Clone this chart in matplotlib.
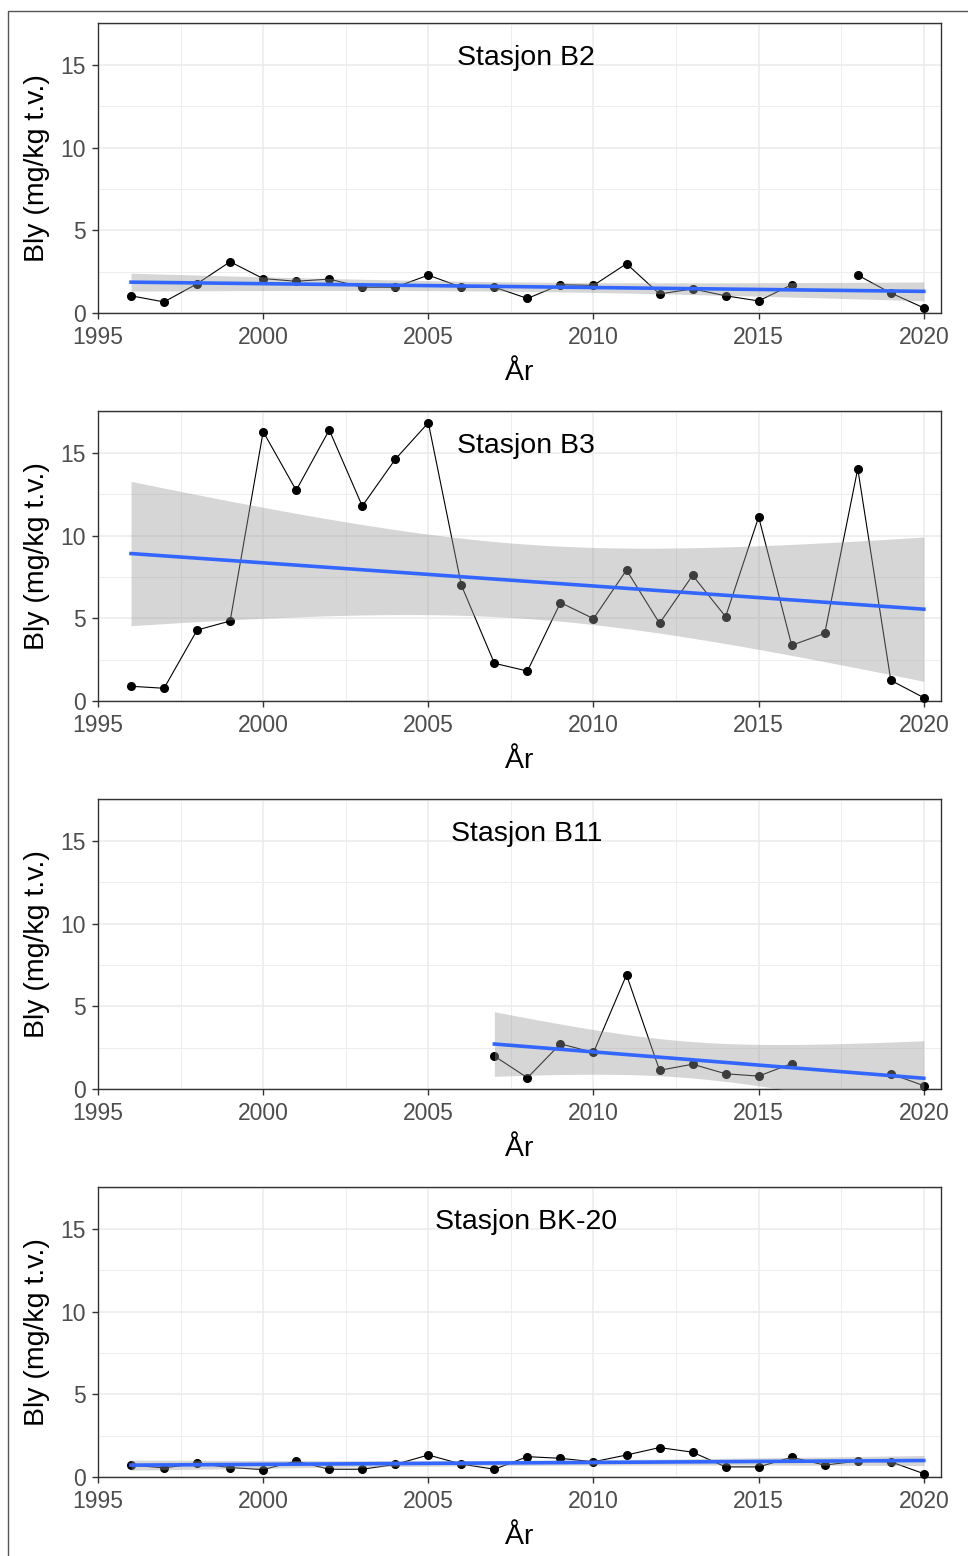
import numpy as np
import matplotlib
matplotlib.use("Agg")
import matplotlib.pyplot as plt
from matplotlib.lines import Line2D
from matplotlib.ticker import MultipleLocator

plt.rcParams['font.family'] = ['Liberation Sans', 'DejaVu Sans']

nan = np.nan
years = np.arange(1996, 2021)

stations = ["Stasjon B2", "Stasjon B3", "Stasjon B11", "Stasjon BK-20"]

b2 = [1.04, 0.67, 1.77, 3.10, 2.08, 1.92, 2.05, 1.56, 1.56, 2.29, 1.56, 1.56, 0.88,
      1.71, 1.67, 2.98, 1.15, 1.46, 1.04, 0.73, 1.71, nan, 2.29, 1.21, 0.31]
b3 = [0.89, 0.77, 4.29, 4.84, 16.29, 12.74, 16.39, 11.79, 14.62, 16.83, 7.00, 2.28, 1.81,
      5.95, 4.98, 7.92, 4.70, 7.60, 5.10, 11.13, 3.37, 4.09, 14.05, 1.25, 0.20]
b11 = [nan] * 11 + [1.99, 0.68, 2.73, 2.21, 6.90, 1.13, 1.50, 0.92, 0.78, 1.54,
                    nan, nan, 0.92, 0.20]
bk20 = [0.72, 0.55, 0.82, 0.57, 0.45, 0.96, 0.47, 0.47, 0.76, 1.33, 0.78, 0.47, 1.23,
        1.13, 0.92, 1.33, 1.78, 1.50, 0.61, 0.61, 1.19, 0.72, 0.96, 0.92, 0.20]

series = [b2, b3, b11, bk20]

# t quantile (0.975) by degrees of freedom, for the 95% band
T975 = {10: 2.228, 22: 2.074, 23: 2.069}


def lm_band(x, y):
    ok = ~np.isnan(y)
    x, y = x[ok], y[ok]
    n = len(x)
    slope, icpt = np.polyfit(x, y, 1)
    xs = np.linspace(x.min(), x.max(), 100)
    res = y - (icpt + slope * x)
    s = np.sqrt((res ** 2).sum() / (n - 2))
    se = s * np.sqrt(1 / n + (xs - x.mean()) ** 2 / ((x - x.mean()) ** 2).sum())
    fit = icpt + slope * xs
    t = T975[n - 2]
    return xs, fit, fit - t * se, fit + t * se


W, H = 968, 1556
fig = plt.figure(figsize=(W / 100, H / 100), dpi=100)

# outer frame (left and top edges only)
fig.add_artist(Line2D([8 / W, 8 / W, 1], [0, 1 - 10.7 / H, 1 - 10.7 / H],
                      color="#555555", lw=1.0, transform=fig.transFigure))

left, right = 98, 941
bottoms = [313, 701, 1089, 1477]
ph = 289.7

for name, vals, bot in zip(stations, series, bottoms):
    y = np.array(vals, dtype=float)
    ax = fig.add_axes([left / W, 1 - bot / H, (right - left) / W, ph / H])
    ax.set_xlim(1995, 2020.52)
    ax.set_ylim(0, 17.52)

    ax.xaxis.set_major_locator(MultipleLocator(5))
    ax.xaxis.set_minor_locator(MultipleLocator(2.5))
    ax.yaxis.set_major_locator(MultipleLocator(5))
    ax.yaxis.set_minor_locator(MultipleLocator(2.5))
    ax.grid(which="major", color="#EBEBEB", lw=1.1)
    ax.grid(which="minor", color="#EDEDED", lw=0.7)
    ax.set_axisbelow(True)
    ax.tick_params(which="minor", length=0)
    ax.tick_params(which="major", length=4, width=1.0, color="#333333",
                   labelsize=16.5, labelcolor="#4D4D4D")
    ax.tick_params(axis="x", pad=5)
    ax.tick_params(axis="y", pad=5)
    for sp in ax.spines.values():
        sp.set_color("#333333")
        sp.set_linewidth(1.0)

    ax.plot(years, y, color="black", lw=0.8, zorder=3)
    ax.plot(years, y, "o", color="black", ms=5.5, zorder=3, clip_on=False)

    xs, fit, lo, hi = lm_band(years.astype(float), y)
    ax.fill_between(xs, lo, hi, color="#999999", alpha=0.4, lw=0, zorder=4)
    ax.plot(xs, fit, color="#3366FF", lw=2.6, zorder=5)

    ax.text(0.508, 1 - 41.7 / ph, name, transform=ax.transAxes, ha="center",
            va="baseline", fontsize=20.5, color="black", zorder=6)

    ax.set_xlabel("År", fontsize=20.5)
    ax.xaxis.set_label_coords(0.5, -(373 - 313) / ph)
    ax.xaxis.label.set_va("center")
    ax.set_ylabel("Bly (mg/kg t.v.)", fontsize=20.5)
    ax.yaxis.set_label_coords(-(left - 37) / (right - left), 0.5)
    ax.yaxis.label.set_va("center")

fig.savefig("out.png", dpi=100)
